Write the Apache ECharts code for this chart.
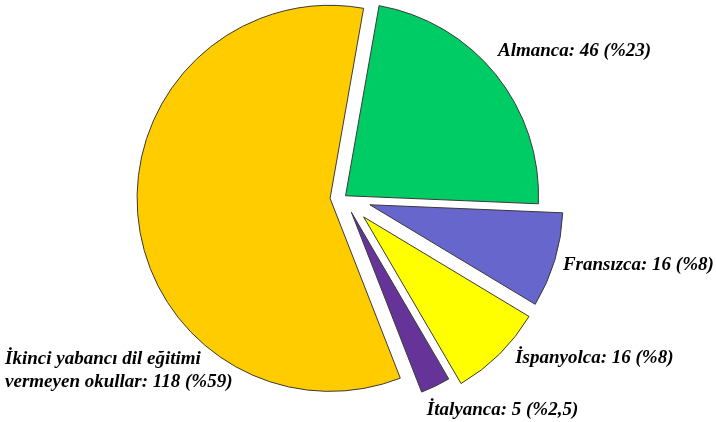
<!DOCTYPE html>
<html>
<head>
<meta charset="utf-8">
<script src="https://cdn.jsdelivr.net/npm/echarts@6/dist/echarts.min.js"></script>
<style>html,body{margin:0;padding:0;background:#fff}#c{width:716px;height:422px}</style>
</head>
<body>
<div id="c"></div>
<script>
const categories = ['Almanca', 'Fransızca', 'İspanyolca', 'İtalyanca', 'İkinci yabancı dil eğitimi\nvermeyen okullar'];
const values = [46, 16, 16, 5, 118];
const percentLabels = ['23', '8', '8', '2,5', '59'];

const colors = ['#00CC66', '#6666CC', '#FFFF00', '#663399', '#FFCC00'];
const explode = [2, 27, 28, 17, 14];
const labelLen = [36, 19, 7, 26, 10];
const labelShift = [[-31, -1], [-15, -1], [6, -1], [-25, 1], [-118, 152]];

const chart = echarts.init(document.getElementById('c'), null, {renderer: 'canvas'});
const series = categories.map((cat, k) => ({
  type: 'pie',
  center: [344, 197],
  radius: 193,
  startAngle: 80,
  clockwise: true,
  avoidLabelOverlap: false,
  selectedMode: 'multiple',
  selectedOffset: explode[k],
  silent: true,
  animation: false,
  emphasis: {disabled: true},
  labelLine: {show: false, length: labelLen[k], length2: 0},
  labelLayout: k === 4 ? {dx: labelShift[k][0], dy: labelShift[k][1], align: 'left'} : {dx: labelShift[k][0], dy: labelShift[k][1]},
  data: categories.map((c, i) => ({
    name: c,
    value: values[i],
    selected: i === k,
    itemStyle: i === k ? {color: colors[i], borderColor: '#3a3a3a', borderWidth: 1} : {color: 'rgba(0,0,0,0)', borderWidth: 0},
    select: {itemStyle: i === k ? {color: colors[i], borderColor: '#3a3a3a', borderWidth: 1} : {color: 'rgba(0,0,0,0)', borderWidth: 0}},
    label: {
      show: i === k,
      position: 'outside',
      formatter: () => c + ': ' + values[i] + ' (%' + percentLabels[i] + ')',
      fontFamily: 'Liberation Serif',
      fontStyle: 'italic',
      fontWeight: 'bold',
      fontSize: 19,
      lineHeight: 23,
      color: '#000'
    }
  }))
}));
chart.setOption({backgroundColor: '#fff', series});
</script>
</body>
</html>
